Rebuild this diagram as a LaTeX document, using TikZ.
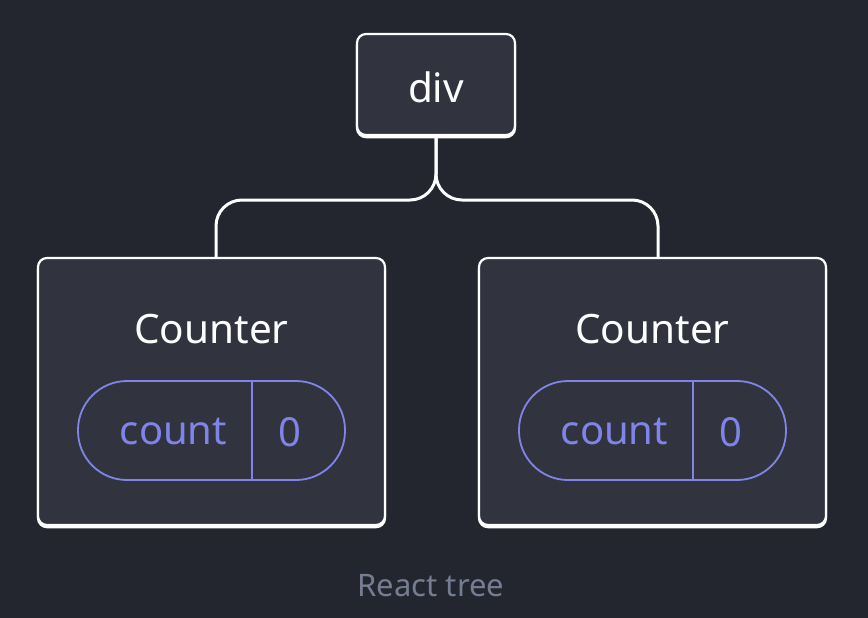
\documentclass[tikz,border=0pt]{standalone}
\usepackage{fontspec}
\setmainfont{Noto Sans}
\definecolor{bg}{RGB}{35,38,46}
\definecolor{boxfill}{RGB}{49,52,62}
\definecolor{pillc}{RGB}{128,132,232}
\definecolor{labelc}{RGB}{118,125,146}
\tikzset{
  treebox/.style={draw=white, line width=2.2pt, fill=boxfill, rounded corners=9pt, inner sep=0pt,
    preaction={draw=white, line width=2.2pt, fill=white, rounded corners=9pt, transform canvas={yshift=-2.2pt}}},
  conn/.style={draw=white, line width=3pt, rounded corners=26pt},
  pill/.style={draw=pillc, line width=1.8pt, rounded corners=49pt, minimum width=267pt, minimum height=99pt, inner sep=0pt},
  title/.style={text=white, font=\fontsize{40.5}{44}\selectfont},
  pilltext/.style={text=pillc, font=\fontsize{40}{44}\selectfont},
}
\begin{document}
\begin{tikzpicture}[x=1pt,y=-1pt]
\useasboundingbox (0,0) rectangle (868,618);
\fill[bg] (0,0) rectangle (868,618);
% boxes
\node[treebox, minimum width=158pt, minimum height=101pt] (div) at (436,84.5) {};
\node[title] (divt) at (436,87) {div};
\node[treebox, minimum width=347pt, minimum height=267pt] (c1) at (211.5,391.5) {};
\node[treebox, minimum width=347pt, minimum height=267pt] (c2) at (652.5,391.5) {};
\node[title] (c1t) at (211.5,329) {Counter};
\node[title] (c2t) at (652.5,329) {Counter};
% connectors
\coordinate (j) at (436,200);
\draw[conn] (div.south) -- (j) -- (216,200) -- (216,258);
\draw[conn] (div.south) -- (j) -- (658,200) -- (658,258);
% pills
\node[pill] (p1) at (211.5,430.5) {};
\node[pill] (p2) at (652.5,430.5) {};
\draw[pillc, line width=1.8pt] (252,381) -- (252,480);
\draw[pillc, line width=1.8pt] (693,381) -- (693,480);
\node[pilltext] (k1) at (173.5,432) {count};
\node[pilltext] (v1) at (290,432) {0};
\node[pilltext] (k2) at (614.5,432) {count};
\node[pilltext] (v2) at (731,432) {0};
\node[text=labelc, font=\fontsize{31}{34}\selectfont] (lab) at (431,586) {React tree};
\end{tikzpicture}
\end{document}
